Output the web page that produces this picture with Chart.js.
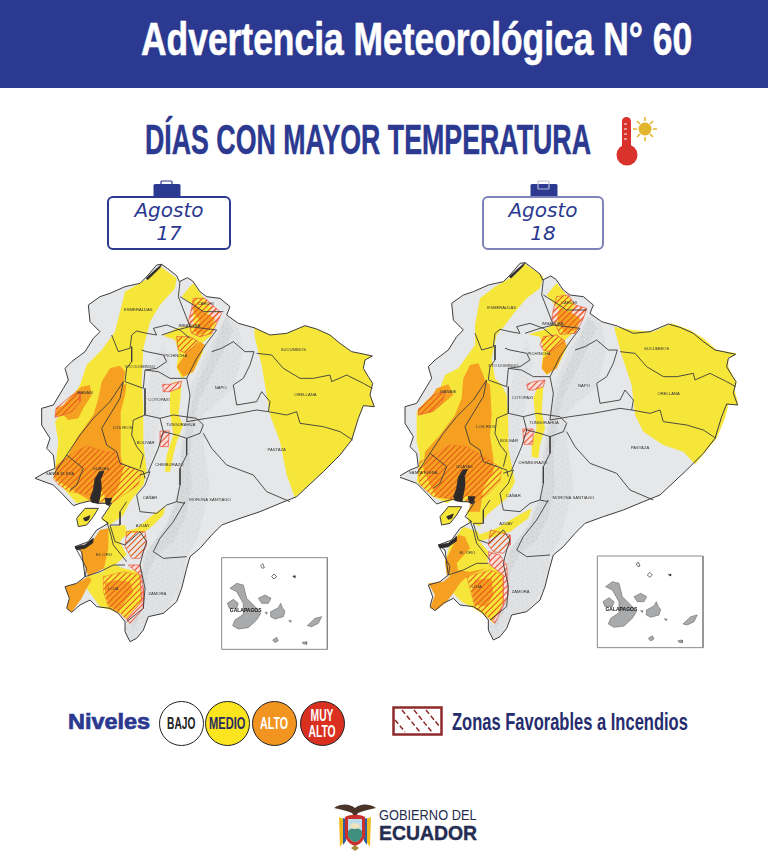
<!DOCTYPE html>
<html lang="es">
<head>
<meta charset="utf-8">
<title>Advertencia Meteorológica N° 60</title>
<script src="https://cdn.jsdelivr.net/npm/chart.js@4/dist/chart.umd.js"></script>
<style>
html, body { margin: 0; padding: 0; background: #fff; }
#page { position: relative; width: 768px; height: 863px; overflow: hidden; background: #fff; color: #2b3990; font-family: "Liberation Sans", sans-serif; }
#page > * { position: absolute; }
#band { left: 0; top: 0; width: 768px; height: 88px; background: #2b3990; }
.fit { display: inline-block; white-space: nowrap; font-weight: bold; transform-origin: 0 0; }
#headline { left: 141px; top: 12px; font-size: 46px; color: #fff; -webkit-text-stroke: 0.6px #fff; }
#subtitle { left: 145px; top: 116px; font-size: 42px; -webkit-text-stroke: 0.5px #2b3990; }
.dateBox { box-sizing: border-box; height: 54px; border-radius: 6px; background: #fff; text-align: center; font: italic 20px/23px "DejaVu Sans", sans-serif; padding-top: 1px; color: #2b3990; }
#box17 { left: 107px; top: 196px; width: 124px; border: 2px solid #2b3990; }
#box18 { left: 482px; top: 196px; width: 122px; border: 2px solid #7f84b8; }
canvas { display: block; }
#mapLeft { left: 30px; top: 255px; }
#mapRight { left: 400px; top: 255px; }
#niveles { left: 68px; top: 709px; font-size: 22px; line-height: 26px; -webkit-text-stroke: 0.7px #2b3990; }
.level { box-sizing: border-box; top: 701px; width: 45px; height: 45px; border-radius: 50%; border: 1px solid #222; text-align: center; display: flex; align-items: center; justify-content: center; }
.level .fit { font-size: 16px; line-height: 16px; transform-origin: 50% 50%; }
#zonas { left: 452px; top: 708px; font-size: 24px; color: #252d6e; }
#gob1 { left: 379px; top: 807px; font-size: 14px; line-height: 16px; font-weight: normal; color: #252d50; }
#gob2 { left: 379px; top: 822px; font-size: 20px; line-height: 22px; color: #252d50; -webkit-text-stroke: 0.4px #252d50; }
</style>
</head>
<body>
<div id="page">
  <div id="band"></div>
  <div id="headline" class="fit" data-w="551">Advertencia Meteorológica N° 60</div>
  <div id="subtitle" class="fit" data-w="446">DÍAS CON MAYOR TEMPERATURA</div>

  <svg style="left:612px;top:112px" width="48" height="56" viewBox="0 0 48 56">
    <rect x="10" y="5" width="9" height="36" rx="4.5" fill="#d9322a"/>
    <circle cx="15" cy="43" r="10.5" fill="#d9322a"/>
    <path d="M12 12h3M12 17h3M12 22h3M12 27h3" stroke="#fff" stroke-width="1"/>
    <circle cx="33" cy="17" r="6.5" fill="#e3b52c"/>
    <path d="M33 5v4M33 25v4M21 17h4M41 17h4M25 9l3 3M41 9l-3 3M25 25l3-3M41 25l-3-3" stroke="#e3b52c" stroke-width="1.6"/>
  </svg>

  <svg style="left:153px;top:180px" width="28" height="17" viewBox="0 0 28 17">
    <rect x="8" y="1" width="11" height="6" rx="1" fill="none" stroke="#2b3990" stroke-width="1.2"/>
    <rect x="0.5" y="4" width="27" height="13" rx="1.5" fill="#2b3990"/>
  </svg>
  <svg style="left:530px;top:180px" width="28" height="17" viewBox="0 0 28 17">
    <rect x="0.5" y="4" width="27" height="13" rx="1.5" fill="#2b3990"/>
    <rect x="8" y="1" width="11" height="8" rx="1" fill="none" stroke="#b9bbd8" stroke-width="1.2"/>
  </svg>
  <div id="box17" class="dateBox">Agosto<br>17</div>
  <div id="box18" class="dateBox">Agosto<br>18</div>

  <canvas id="mapLeft" width="350" height="400" style="width:350px;height:400px"></canvas>
  <canvas id="mapRight" width="350" height="400" style="width:350px;height:400px"></canvas>

  <div id="niveles" class="fit" data-w="82">Niveles</div>
  <div class="level" style="left:159px;background:#fff;color:#222"><span class="fit" data-w="28">BAJO</span></div>
  <div class="level" style="left:205px;background:#fbe51e;color:#2b2b60"><span class="fit" data-w="36">MEDIO</span></div>
  <div class="level" style="left:252px;background:#f29420;color:#fff"><span class="fit" data-w="28">ALTO</span></div>
  <div class="level" style="left:300px;background:#d9301f;color:#fff"><span class="fit" data-w="27">MUY<br>ALTO</span></div>

  <svg style="left:392px;top:706px" width="51" height="30" viewBox="0 0 51 30">
    <rect x="1.5" y="1.5" width="48" height="27" fill="#fff" stroke="#8e2a2a" stroke-width="2.5"/>
    <path d="M10 4l18 22M22 4l18 22M34 4l14 17M3 14l10 12" stroke="#8e2a2a" stroke-width="1.5" stroke-dasharray="5 2.5" fill="none"/>
  </svg>
  <div id="zonas" class="fit" data-w="236">Zonas Favorables a Incendios</div>

  <svg style="left:332px;top:801px" width="46" height="52" viewBox="0 0 46 52">
    <path d="M2 7C10 2 18 3 23 7C28 3 36 2 44 7C36 9 30 10 26 12L23 17L20 12C16 10 10 9 2 7Z" fill="#4a3428"/>
    <path d="M7 16l5 2v22l-4 6z" fill="#f0b91e"/><path d="M39 16l-5 2v22l4 6z" fill="#f0b91e"/>
    <path d="M11 17l3 1v22l-3 4z" fill="#2b5fa8"/><path d="M35 17l-3 1v22l3 4z" fill="#2b5fa8"/>
    <path d="M13 16C18 13 28 13 33 16V36C30 42 26 44 23 45C20 44 16 42 13 36Z" fill="#c9302c"/>
    <path d="M16 18H30V35C28 39 25 41 23 41C21 41 18 39 16 35Z" fill="#bcdcec"/>
    <path d="M16 30C20 26 26 26 30 30V35C28 39 25 41 23 41C21 41 18 39 16 35Z" fill="#3f8f7f"/>
    <ellipse cx="23" cy="25" rx="5" ry="3" fill="#efe3c0"/>
    <path d="M19 47l4-3l4 3l-4 3z" fill="#a98a3a"/>
  </svg>
  <div id="gob1" class="fit" data-w="98">GOBIERNO DEL</div>
  <div id="gob2" class="fit" data-w="98">ECUADOR</div>
</div>

<script>
// Map outlines (units: picture pixels x3 in the left map)
const ecuadorOutline = [[395,28],[412,40],[440,62],[448,80],[472,68],[488,78],[510,110],[530,125],[570,130],[600,155],[590,180],[625,205],[672,218],[720,240],[770,235],[825,212],[860,222],[900,240],[930,265],[965,290],[990,295],[1027,303],[1005,315],[1000,340],[1015,365],[1028,385],[1020,420],[1033,455],[1000,452],[985,490],[965,555],[930,600],[880,650],[800,725],[750,745],[690,770],[630,790],[575,810],[545,840],[510,880],[480,905],[470,940],[455,1000],[440,1040],[400,1075],[355,1085],[340,1125],[320,1150],[300,1160],[285,1130],[285,1100],[265,1075],[240,1060],[200,1055],[180,1035],[150,1050],[125,1072],[110,1060],[118,1030],[105,995],[140,985],[165,965],[155,890],[135,875],[175,860],[200,825],[235,805],[215,790],[245,745],[205,745],[178,738],[150,745],[130,752],[100,720],[70,690],[15,670],[50,650],[75,640],[70,600],[50,580],[60,550],[35,510],[35,460],[70,450],[100,400],[115,375],[105,340],[125,320],[165,290],[190,250],[210,230],[180,200],[175,150],[210,125],[240,115],[285,95],[330,85],[350,65],[380,30]];
const punaIsland = [[140,790],[165,760],[205,760],[190,785],[170,810],[145,815]];
const reliefBroad = [[590,180],[625,215],[640,290],[610,400],[520,480],[520,560],[540,700],[500,860],[470,905],[455,1000],[400,1075],[355,1085],[320,1150],[300,1160],[285,1120],[330,1040],[340,900],[400,830],[440,720],[450,600],[470,470],[480,400],[530,290]];
const reliefCrest = [[585,190],[610,225],[580,290],[540,370],[505,440],[490,520],[480,600],[485,700],[465,790],[430,860],[380,900],[350,960],[345,1040],[320,1100],[305,1130],[315,1050],[335,960],[350,890],[410,810],[450,720],[455,600],[480,470],[500,390],[545,290]];
const reliefWest = [[345,450],[365,340],[400,260],[420,330],[390,480],[370,590],[350,680],[335,650]];

const provinceLines = [
  [[680,295],[725,300],[760,340],[810,370],[850,370],[900,360],[905,380],[950,360],[1000,385],[1027,400]],
  [[715,470],[770,480],[800,470],[810,505],[880,515],[930,530],[968,555]],
  [[470,500],[530,490],[600,480],[680,465],[715,470],[720,440],[695,410],[680,440],[620,450],[610,390],[640,370],[660,330],[672,290],[645,290],[610,260],[575,280],[545,290]],
  [[520,535],[545,580],[590,630],[670,660],[710,710],[780,740]],
  [[465,740],[430,800],[390,850],[370,890],[400,910],[470,905]],
  [[390,490],[430,480],[500,490],[520,510],[510,535],[470,550],[440,540],[400,530],[390,490]],
  [[470,550],[470,600],[450,640],[450,690],[440,740],[465,745]],
  [[245,240],[265,290],[300,280],[305,240],[320,228],[350,235],[380,240],[370,220],[410,210],[450,225],[480,250]],
  [[305,275],[305,320],[290,340],[285,380],[340,400],[345,345],[380,340],[410,320],[400,300],[350,290],[335,285]],
  [[280,380],[240,440],[190,490],[150,540],[110,600],[160,640],[140,690],[120,705]],
  [[280,380],[270,430],[215,520],[230,570],[260,590],[270,625],[340,650],[345,670]],
  [[345,480],[310,495],[305,540],[320,575],[340,600],[330,640]],
  [[345,400],[345,480],[390,490]],
  [[345,345],[385,350],[420,370],[470,370]],
  [[400,530],[385,580],[355,650]],
  [[330,660],[360,650],[345,690],[320,720],[330,770],[380,775],[410,750],[440,740]],
  [[290,740],[270,770],[270,810],[240,810],[255,860],[285,870],[330,830],[350,860],[340,890]],
  [[340,890],[330,930],[345,1000],[340,1060],[290,1100]],
  [[165,965],[210,950],[250,930],[285,930]],
  [[230,800],[240,830],[250,870],[290,920]],
  [[450,125],[490,150],[520,170],[580,170]],
  [[395,240],[440,225],[480,215],[560,225],[530,265],[500,310],[470,370],[480,420],[470,500]],
  [[70,660],[110,600]],
  [[450,80],[445,125],[480,215]],
  [[135,875],[170,940],[165,965]]
];

// Dark estuary and mangrove coast
const coastEstuary = [[195,672],[208,650],[222,648],[212,672],[214,700],[206,745],[186,742],[181,730],[190,705]];
const coastEstuaryEast = [[225,730],[245,730],[238,752],[228,748]];
const coastElOro = [[135,875],[165,870],[190,850],[188,864],[165,880],[140,884]];
const coastNorth = [[348,70],[372,48],[395,28],[390,38],[372,56],[353,74]];
const coastPuna = [[160,790],[180,782],[175,795],[165,798]];

// Galapagos inset
const insetBox = [[575,908],[892,908],[892,1183],[575,1183]];
const islandIsabela = [[600,1000],[620,985],[640,990],[650,1030],[680,1060],[692,1075],[680,1095],[655,1118],[625,1122],[608,1112],[615,1095],[640,1078],[640,1045],[620,1010]];
const islandFernandina = [[592,1045],[610,1033],[625,1045],[620,1060],[598,1060]];
const islandSantiago = [[685,1030],[705,1020],[723,1030],[715,1045],[695,1045]];
const islandSantaCruz = [[722,1070],[745,1058],[752,1045],[758,1060],[765,1068],[760,1085],[735,1092],[722,1085]];
const islandSanCristobal = [[832,1112],[855,1090],[875,1085],[865,1105],[845,1115]];
const islandFloreana = [[728,1155],[740,1147],[745,1157],[735,1163]];
const islandEspanola = [[817,1162],[830,1160],[830,1168],[820,1167]];
const islandRabida = [[705,1072],[712,1072],[710,1078]];
const islandSantaFe = [[776,1097],[784,1097],[782,1102]];
const islandMarchena = [[788,964],[795,962],[795,968]];
const islandGenovesa = [[692,932],[698,926],[703,938],[697,940]];
const islandPinta = [[725,965],[732,957],[740,965],[732,972]];

// Province labels
const provinceNames = ['ESMERALDAS','MANABÍ','STO DOMINGO','CARCHI','IMBABURA','PICHINCHA','SUCUMBIOS','ORELLANA','NAPO','COTOPAXI','LOS RÍOS','BOLÍVAR','TUNGURAHUA','PASTAZA','SANTA ELENA','GUAYAS','CHIMBORAZO','CAÑAR','MORONA SANTIAGO','AZUAY','EL ORO','LOJA','ZAMORA'];
const provinceX = [325,165,330,527,478,437,790,826,572,387,278,347,452,740,90,213,418,360,540,338,222,250,382];
const provinceY = [165,415,337,148,212,302,286,421,398,434,520,563,510,585,658,642,630,728,735,812,900,1002,1017];

// Levels for Agosto 17 (left map coordinates)
const yellowWest17 = [[355,70],[392,35],[440,70],[435,100],[390,150],[360,200],[340,280],[335,380],[340,460],[340,560],[350,650],[340,690],[300,740],[280,780],[240,810],[215,795],[245,745],[178,738],[140,745],[100,700],[72,670],[85,560],[75,500],[105,460],[150,390],[170,330],[215,285],[255,230],[270,170],[285,110]];
const yellowAmazon17 = [[672,218],[720,240],[770,235],[825,212],[860,222],[900,240],[930,265],[965,290],[990,295],[1027,303],[1005,315],[1000,340],[1015,365],[1028,385],[1020,420],[1033,455],[1000,452],[985,490],[965,555],[930,600],[880,650],[795,728],[770,660],[750,560],[720,480],[710,420],[695,330],[675,250]];
const yellowStrip17 = [[430,380],[455,380],[450,440],[445,480],[460,510],[440,560],[430,600],[420,650],[405,650],[410,600],[430,540],[420,470],[420,420]];
const yellowPichincha17 = [[490,85],[515,120],[545,160],[530,185],[560,205],[545,240],[510,270],[520,290],[490,350],[455,370],[440,340],[445,290],[435,255],[400,242],[440,220],[490,210],[490,150],[455,125],[475,100]];
const yellowAzuay17 = [[405,755],[400,780],[370,810],[345,830],[300,835],[275,850],[255,862],[250,850],[280,830],[320,820],[375,775]];
const yellowLoja17 = [[235,815],[285,810],[290,830],[270,860],[290,900],[255,930],[280,940],[330,950],[340,1040],[300,1100],[270,1075],[210,1055],[170,1000],[170,965],[220,950]];
const orangeManabi17 = [[125,420],[155,395],[180,390],[185,420],[160,460],[145,490],[115,495],[100,480],[75,487],[80,460],[100,450]];
const orangeMain17 = [[240,340],[270,332],[285,350],[280,390],[290,385],[285,420],[272,470],[272,600],[280,640],[265,700],[240,740],[205,700],[185,740],[120,700],[85,680],[72,670],[80,630],[115,600],[140,550],[190,480],[205,430],[215,380]];
const orangeElOro17 = [[210,825],[235,820],[235,880],[222,940],[185,960],[175,965],[160,920],[150,880],[190,855]];
const orangeLojaWest17 = [[105,995],[140,985],[175,965],[185,975],[170,1000],[155,1030],[125,1072],[110,1060],[118,1030]];
const orangeLojaCentre17 = [[225,985],[260,975],[300,980],[310,1010],[285,1040],[265,1070],[235,1050],[225,1010]];
const orangeImbabura17 = [[490,140],[520,170],[555,190],[540,225],[505,240],[490,225],[510,200],[490,170]];
const orangePichincha17 = [[470,290],[510,260],[525,270],[490,350],[460,365],[440,335]];
const hatchManabi17 = [[120,425],[150,410],[150,440],[125,470],[100,480],[75,487],[78,460]];
const hatchGuayas17 = [[70,670],[80,635],[120,600],[170,572],[230,590],[262,590],[265,620],[335,650],[325,690],[280,720],[245,745],[190,740],[180,720],[120,710],[85,690]];
const hatchLoja17 = [[220,965],[280,950],[330,960],[335,1040],[300,1105],[270,1075],[235,1055],[220,1010]];
const hatchAzuay17 = [[290,830],[345,830],[350,870],[330,910],[305,910],[285,875]];
const hatchImbabura17 = [[490,130],[525,130],[575,175],[560,205],[545,235],[510,245],[485,235],[475,200],[485,160]];
const hatchPichincha17 = [[440,245],[480,245],[505,260],[470,295],[445,285]];
const hatchCotopaxi17 = [[398,388],[420,388],[455,378],[450,398],[420,410],[400,410]];
const hatchChimborazo17 = [[390,528],[418,528],[415,575],[392,575]];
const hatchPink17 = [[295,930],[330,930],[340,1000],[340,1060],[300,1105],[290,1090],[335,1040],[330,960]];

// Levels for Agosto 18 (right map coordinates)
const yellowWest18 = [[345,60],[372,25],[410,50],[430,65],[420,100],[380,130],[345,170],[315,210],[290,240],[275,310],[285,370],[305,390],[320,420],[325,500],[325,580],[345,680],[320,730],[260,780],[240,815],[205,800],[200,770],[220,745],[170,730],[140,745],[100,725],[50,680],[60,600],[50,560],[50,470],[75,440],[120,400],[135,360],[175,340],[225,270],[225,210],[240,130],[285,95]];
const yellowAmazon18 = [[642,215],[700,225],[760,230],[815,205],[870,225],[910,250],[950,285],[1010,295],[985,310],[985,335],[1010,385],[1003,400],[1015,450],[985,450],[975,490],[950,550],[885,628],[850,590],[790,570],[730,530],[705,480],[695,390],[665,300]];
const yellowStrip18 = [[415,390],[430,395],[425,470],[435,520],[420,570],[415,610],[395,605],[395,560],[410,520],[400,430]];
const yellowPichincha18 = [[470,85],[500,120],[525,150],[510,175],[540,195],[530,225],[495,255],[500,280],[470,340],[440,360],[425,340],[430,280],[420,245],[385,238],[430,225],[470,205],[480,170],[440,120]];
const yellowAzuay18 = [[395,760],[385,790],[350,815],[330,830],[270,850],[235,860],[235,840],[290,820],[340,790],[375,770]];
const yellowLoja18 = [[190,815],[235,830],[240,860],[265,890],[262,925],[310,930],[320,1020],[280,1105],[265,1090],[230,1065],[185,1040],[160,1015],[175,980],[145,960],[135,920],[150,870]];
const orangeManabi18 = [[110,400],[145,388],[160,420],[130,445],[100,470],[55,480],[55,460],[85,440]];
const orangeMain18 = [[210,330],[235,325],[250,360],[255,375],[270,390],[275,480],[270,540],[280,610],[280,650],[250,700],[240,770],[205,770],[215,730],[190,720],[165,735],[110,725],[90,690],[70,640],[75,590],[120,540],[165,480],[185,430],[190,370]];
const orangeElOro18 = [[175,840],[195,845],[210,880],[170,925],[175,950],[140,960],[135,920],[155,880]];
const orangeLojaWest18 = [[85,985],[130,980],[170,945],[210,950],[260,940],[200,965],[180,985],[160,1015],[140,1040],[110,1065],[90,1060],[105,1020]];
const orangeLojaCentre18 = [[225,975],[275,970],[280,1020],[260,1055],[225,1050],[215,1010]];
const orangeImbabura18 = [[480,160],[510,170],[540,190],[530,225],[495,235],[480,210],[470,190]];
const orangePichincha18 = [[450,290],[490,255],[500,270],[470,340],[440,358],[425,340],[430,310]];
const hatchManabi18 = [[100,420],[135,410],[125,445],[95,470],[55,480],[55,465]];
const hatchGuayas18 = [[60,620],[100,600],[150,570],[200,575],[260,610],[305,640],[300,680],[260,720],[220,745],[170,735],[100,725],[60,690],[55,650]];
const hatchLoja18 = [[200,965],[270,945],[310,960],[310,1050],[280,1100],[250,1075],[225,1060],[210,1000]];
const hatchAzuay18 = [[272,825],[330,840],[330,870],[310,895],[280,890],[265,870]];
const hatchImbabura18 = [[470,125],[505,120],[525,150],[560,160],[550,190],[540,210],[525,235],[480,238],[465,205],[455,195],[460,165]];
const hatchPichincha18 = [[420,270],[430,245],[470,240],[495,258],[450,290],[430,285]];
const hatchCotopaxi18 = [[380,388],[400,380],[435,375],[430,395],[400,405],[385,405]];
const hatchChimborazo18 = [[368,522],[400,522],[398,568],[372,568]];
const hatchPink18 = [[265,890],[300,900],[320,930],[325,1020],[285,1105],[278,1098],[310,1050],[310,960],[270,930]];

const GREY = '#e6e7e8', YELLOW = '#f6e63a', ORANGE = '#f5a020', LINE = '#3c3c3c', RED = '#e9553c', SOFT = '#ee7d2e', NONE = 'rgba(0,0,0,0)';

function hatch(stripe, back) {
    const c = document.createElement('canvas');
    c.width = c.height = 6;
    const g = c.getContext('2d');
    if (back) {
        g.fillStyle = back;
        g.fillRect(0, 0, 6, 6);
    }
    g.strokeStyle = stripe;
    g.lineWidth = 1.2;
    g.beginPath();
    g.moveTo(-1, 1); g.lineTo(1, -1);
    g.moveTo(0, 6); g.lineTo(6, 0);
    g.moveTo(5, 7); g.lineTo(7, 5);
    g.stroke();
    return g.createPattern(c, 'repeat');
}

// low contrast speckle for the mountain relief
function mottle(back, dark) {
    const c = document.createElement('canvas');
    c.width = c.height = 10;
    const g = c.getContext('2d');
    g.fillStyle = back;
    g.fillRect(0, 0, 10, 10);
    g.fillStyle = dark;
    g.fillRect(1, 1, 3, 1); g.fillRect(6, 3, 2, 2); g.fillRect(2, 6, 2, 2); g.fillRect(7, 8, 3, 1);
    return g.createPattern(c, 'repeat');
}

function toPoints(list, dx, dy, closed) {
    const pts = list.map(p => ({ x: p[0] + dx, y: p[1] + dy }));
    if (closed) pts.push(pts[0]);
    return pts;
}

function shape(list, fill, border, width, dx = 0, dy = 0) {
    return {
        data: toPoints(list, dx, dy, true),
        showLine: true,
        fill: 'shape',
        backgroundColor: fill,
        borderColor: border,
        borderWidth: width,
        pointRadius: 0,
        tension: 0,
        parsing: false
    };
}

function line(list, dx, dy) {
    return {
        data: toPoints(list, dx, dy, false),
        showLine: true,
        fill: false,
        borderColor: LINE,
        borderWidth: 0.9,
        pointRadius: 0,
        tension: 0,
        parsing: false
    };
}

// draws the province names through the chart's own scales
const labelPlugin = {
    id: 'mapLabels',
    afterDatasetsDraw(chart, args, opts) {
        const ctx = chart.ctx;
        const sx = chart.scales.x, sy = chart.scales.y;
        ctx.save();
        ctx.textAlign = 'center';
        ctx.textBaseline = 'middle';
        ctx.fillStyle = '#333';
        ctx.font = '4.2px "Liberation Sans", sans-serif';
        provinceNames.forEach((name, i) => {
            ctx.fillText(name, sx.getPixelForValue(provinceX[i] + opts.dx), sy.getPixelForValue(provinceY[i] + opts.dy));
        });
        ctx.font = 'bold 5px "Liberation Sans", sans-serif';
        ctx.fillStyle = '#111';
        ctx.fillText('GALAPAGOS', sx.getPixelForValue(647 + opts.insetDx), sy.getPixelForValue(1068 + opts.dy));
        ctx.restore();
    }
};

function drawMap(id, levels, dx, dy, insetDx) {
    const insetFill = '#a9aaac';
    const layers = [
        shape(ecuadorOutline, GREY, NONE, 0, dx, dy),
        shape(reliefBroad, mottle('#e0e1e3', '#dadbdd'), NONE, 0, dx, dy),
        shape(reliefCrest, mottle('#d8d9db', '#d0d1d3'), NONE, 0, dx, dy),
        shape(reliefWest, mottle('#e2e3e5', '#dcdddf'), NONE, 0, dx, dy)
    ].concat(levels).concat([
        shape(ecuadorOutline, NONE, LINE, 1, dx, dy),
        shape(punaIsland, YELLOW, LINE, 1, dx, dy)
    ]).concat(provinceLines.map(l => line(l, dx, dy))).concat([
        shape(coastEstuary, '#2f2a2a', '#2f2a2a', 0.8, dx, dy),
        shape(coastEstuaryEast, '#2f2a2a', '#2f2a2a', 0.8, dx, dy),
        shape(coastElOro, '#2f2a2a', '#2f2a2a', 0.8, dx, dy),
        shape(coastNorth, '#2f2a2a', '#2f2a2a', 0.6, dx, dy),
        shape(coastPuna, '#2f2a2a', '#2f2a2a', 0.8, dx, dy),
        shape(insetBox, '#fff', '#8a8a8a', 1, insetDx, dy),
        shape(islandIsabela, insetFill, '#666', 0.6, insetDx, dy),
        shape(islandFernandina, insetFill, '#666', 0.6, insetDx, dy),
        shape(islandSantiago, insetFill, '#666', 0.6, insetDx, dy),
        shape(islandSantaCruz, insetFill, '#666', 0.6, insetDx, dy),
        shape(islandSanCristobal, insetFill, '#666', 0.6, insetDx, dy),
        shape(islandFloreana, insetFill, '#666', 0.6, insetDx, dy),
        shape(islandEspanola, insetFill, '#666', 0.6, insetDx, dy),
        shape(islandRabida, insetFill, '#666', 0.6, insetDx, dy),
        shape(islandSantaFe, insetFill, '#666', 0.6, insetDx, dy),
        shape(islandMarchena, '#555', '#333', 0.6, insetDx, dy),
        shape(islandGenovesa, '#fff', '#333', 0.7, insetDx, dy),
        shape(islandPinta, '#fff', '#333', 0.7, insetDx, dy)
    ]);

    // Chart.js paints the highest order first
    layers.forEach((d, i) => { d.order = layers.length - i; });

    return new Chart(document.getElementById(id), {
        type: 'scatter',
        data: { datasets: layers },
        plugins: [labelPlugin],
        options: {
            responsive: false,
            animation: false,
            events: [],
            layout: { padding: 0 },
            plugins: {
                legend: { display: false },
                tooltip: { enabled: false },
                mapLabels: { dx: dx, dy: dy, insetDx: insetDx }
            },
            scales: {
                x: { type: 'linear', display: false, min: 0, max: 1050 },
                y: { type: 'linear', display: false, min: 0, max: 1200, reverse: true }
            }
        }
    });
}

function fitTexts() {
    document.querySelectorAll('.fit').forEach(el => {
        const target = Number(el.dataset.w);
        el.style.transform = 'scaleX(' + (target / el.offsetWidth) + ')';
    });
}

window.onload = function () {
    fitTexts();

    const stripes = hatch('#e85a1c');
    const pink = hatch('#e9553c', '#f9dcd8');

    const levels17 = [
        shape(hatchImbabura17, pink, NONE, 0),
        shape(yellowWest17, YELLOW, NONE, 0),
        shape(yellowAmazon17, YELLOW, NONE, 0),
        shape(yellowStrip17, YELLOW, NONE, 0),
        shape(yellowPichincha17, YELLOW, NONE, 0),
        shape(yellowAzuay17, YELLOW, NONE, 0),
        shape(yellowLoja17, YELLOW, NONE, 0),
        shape(orangeManabi17, ORANGE, NONE, 0),
        shape(orangeMain17, ORANGE, NONE, 0),
        shape(orangeElOro17, ORANGE, NONE, 0),
        shape(orangeLojaWest17, ORANGE, NONE, 0),
        shape(orangeLojaCentre17, ORANGE, NONE, 0),
        shape(orangeImbabura17, ORANGE, NONE, 0),
        shape(orangePichincha17, ORANGE, NONE, 0),
        shape(hatchManabi17, stripes, RED, 0.7),
        shape(hatchGuayas17, stripes, SOFT, 0.5),
        shape(hatchLoja17, stripes, SOFT, 0.5),
        shape(hatchAzuay17, stripes, RED, 0.7),
        shape(hatchImbabura17, stripes, RED, 0.7),
        shape(hatchPichincha17, stripes, RED, 0.7),
        shape(hatchCotopaxi17, pink, RED, 0.7),
        shape(hatchChimborazo17, pink, RED, 0.7),
        shape(hatchPink17, pink, RED, 0.7)
    ];

    const levels18 = [
        shape(hatchImbabura18, pink, NONE, 0),
        shape(yellowWest18, YELLOW, NONE, 0),
        shape(yellowAmazon18, YELLOW, NONE, 0),
        shape(yellowStrip18, YELLOW, NONE, 0),
        shape(yellowPichincha18, YELLOW, NONE, 0),
        shape(yellowAzuay18, YELLOW, NONE, 0),
        shape(yellowLoja18, YELLOW, NONE, 0),
        shape(orangeManabi18, ORANGE, NONE, 0),
        shape(orangeMain18, ORANGE, NONE, 0),
        shape(orangeElOro18, ORANGE, NONE, 0),
        shape(orangeLojaWest18, ORANGE, NONE, 0),
        shape(orangeLojaCentre18, ORANGE, NONE, 0),
        shape(orangeImbabura18, ORANGE, NONE, 0),
        shape(orangePichincha18, ORANGE, NONE, 0),
        shape(hatchManabi18, stripes, RED, 0.7),
        shape(hatchGuayas18, stripes, SOFT, 0.5),
        shape(hatchLoja18, stripes, SOFT, 0.5),
        shape(hatchAzuay18, stripes, RED, 0.7),
        shape(hatchImbabura18, stripes, RED, 0.7),
        shape(hatchPichincha18, stripes, RED, 0.7),
        shape(hatchCotopaxi18, pink, RED, 0.7),
        shape(hatchChimborazo18, pink, RED, 0.7),
        shape(hatchPink18, pink, RED, 0.7)
    ];

    drawMap('mapLeft', levels17, 0, 0, 0);
    drawMap('mapRight', levels18, -20, -5, 17);
};
</script>
</body>
</html>
